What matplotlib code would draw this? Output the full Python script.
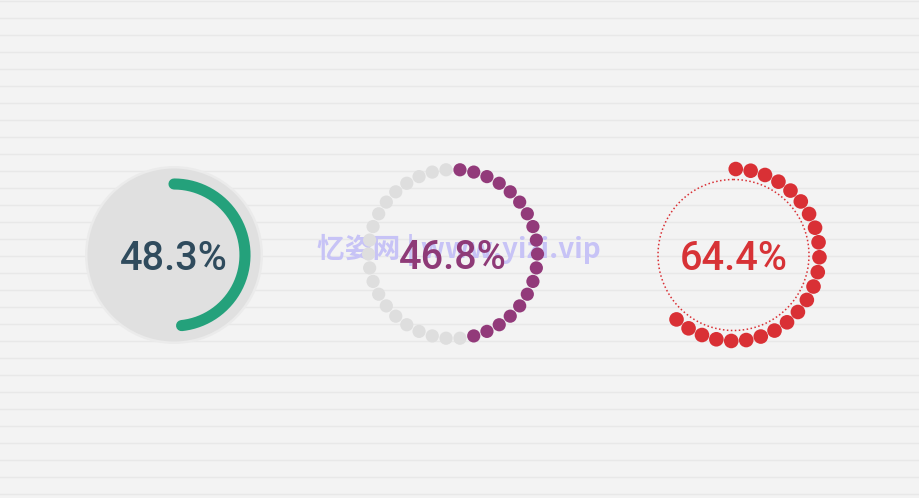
import matplotlib.pyplot as plt
import numpy as np
from matplotlib.patches import Circle

# values shown in the three gauges
values = [48.3, 46.8, 64.4]
labels = ['48.3%', '46.8%', '64.4%']
watermark = '忆姿网 | www.yizi.vip'

# centres / sizes in pixel coordinates of a 919x498 canvas
centers = [(174, 255), (453, 254), (733.5, 255)]
text_colors = ['#2f4b5d', '#8e3a77', '#d73236']
green = '#24a17b'
purple = '#923a7a'
red = '#d93035'
light_gray = '#dedede'

W, H = 919, 498
fig = plt.figure(figsize=(W / 100, H / 100), dpi=100)
fig.patch.set_facecolor('#f3f3f3')
ax = fig.add_axes([0, 0, 1, 1])
ax.set_xlim(0, W)
ax.set_ylim(H, 0)
ax.set_facecolor('#f3f3f3')
ax.axis('off')

# striped background
for y in np.arange(0, H, 17):
    ax.axhline(y + 0.5, color='#e8e8e8', lw=1.0, zorder=0)


def pos(c, r, ang_deg):
    a = np.radians(ang_deg)
    return c[0] + r * np.sin(a), c[1] - r * np.cos(a)


# ---- gauge 1: grey disc with green arc
c = centers[0]
ax.add_patch(Circle(c, 89, facecolor='#ebebeb', edgecolor='none', zorder=1))
ax.add_patch(Circle(c, 86.5, facecolor='#e0e0e0', edgecolor='none', zorder=1.1))
ang = np.linspace(0, values[0] / 100 * 360, 200)
xs, ys = pos(c, 71, ang)
ax.plot(xs, ys, color=green, lw=8, solid_capstyle='round', zorder=2)

# ---- gauge 2: ring of dots
c = centers[1]
n2 = 38
filled2 = int(round(values[1] / 100 * n2))
for i in range(n2):
    x, y = pos(c, 84.5, (i + 0.5) * 360 / n2)
    col = purple if i < filled2 else light_gray
    ax.add_patch(Circle((x, y), 6.6, facecolor=col, edgecolor='none', zorder=3))

# ---- gauge 3: dotted circle + red dots
c = centers[2]
ang = np.linspace(0, 360, 400)
xs, ys = pos(c, 75.5, ang)
ax.plot(xs, ys, color=red, lw=1.1, ls=(0, (1, 1.6)), zorder=2)
n3 = 36
filled3 = int(round(values[2] / 100 * n3))
for i in range(filled3):
    x, y = pos(c, 86, 1.5 + i * 360 / n3)
    ax.add_patch(Circle((x, y), 7.3, facecolor=red, edgecolor='none', zorder=3))

# watermark (sits behind the purple label in the original too)
ax.text(459, 250, watermark, ha='center', va='center', fontsize=20,
        fontweight='bold', color='#c7c3f6',
        family=['Noto Sans CJK SC', 'DejaVu Sans'], zorder=2.5)

# centre labels
for c, lab, col in zip(centers, labels, text_colors):
    ax.text(c[0], c[1] + 4, lab, ha='center', va='center', fontsize=28.5,
            color=col, family='Roboto', fontweight='medium', zorder=5)

fig.savefig('out.png', dpi=100, facecolor=fig.get_facecolor())
